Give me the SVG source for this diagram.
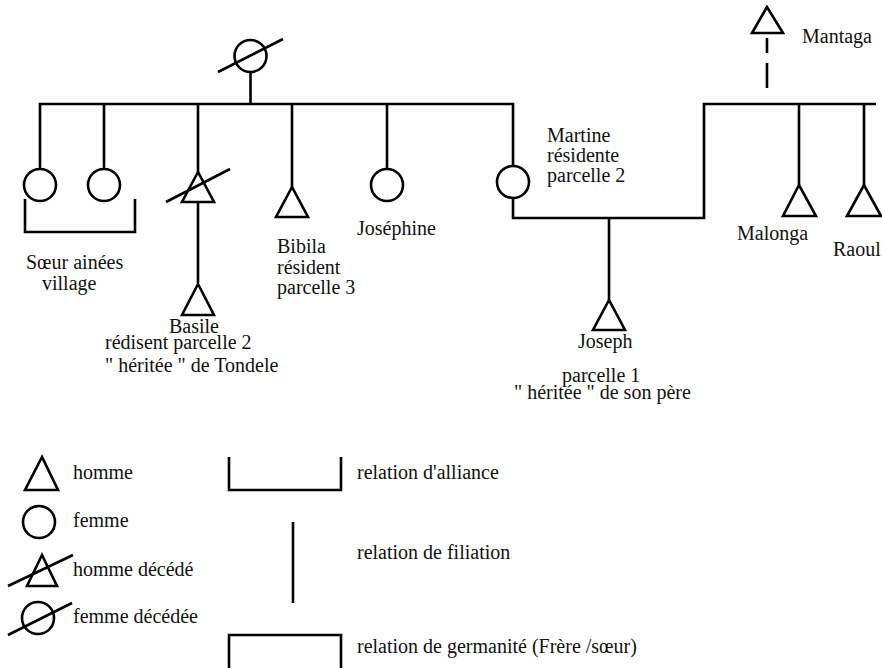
<svg xmlns="http://www.w3.org/2000/svg" width="882" height="668" viewBox="0 0 882 668">
<style>
.s{fill:none;stroke:#000;stroke-width:2.6}
.f{fill:#fff;stroke:#000;stroke-width:2.6}
text{font-family:"Liberation Serif","Times New Roman",serif;font-size:20px;fill:#111}
</style>
<rect width="882" height="668" fill="#fff"/>
<g id="connectors" class="s">
<line x1="250.5" y1="72" x2="250.5" y2="104"/>
<polyline points="40,185 40,104 513,104 513,166"/>
<line x1="104" y1="104" x2="104" y2="169"/>
<line x1="198" y1="104" x2="198" y2="172"/>
<line x1="198" y1="202" x2="198" y2="283"/>
<line x1="292" y1="104" x2="292" y2="187"/>
<line x1="387" y1="104" x2="387" y2="169"/>
<polyline points="513,198 513,218 704,218 704,104 876,104"/>
<line x1="609" y1="218" x2="609" y2="300"/>
<line x1="799" y1="104" x2="799" y2="185"/>
<line x1="864" y1="104" x2="864" y2="185"/>
<line x1="767" y1="38" x2="767" y2="53"/>
<line x1="767" y1="63" x2="767" y2="88"/>
<polyline points="25,199 25,232 135,232 135,199"/>
</g>
<g id="mere">
<circle class="f" cx="250.5" cy="56" r="16"/>
<line class="s" x1="218" y1="72" x2="283" y2="39"/>
</g>
<g id="soeur1"><circle class="f" cx="40" cy="185" r="16"/></g>
<g id="soeur2"><circle class="f" cx="104" cy="185" r="16"/></g>
<g id="soeurs-label"><text x="26" y="269">Sœur ainées</text><text x="42" y="290">village</text></g>
<g id="pere-basile">
<polygon class="f" points="198,172 182,202 214,202"/>
<line class="s" x1="166" y1="202" x2="230" y2="169"/>
</g>
<g id="basile">
<polygon class="f" points="198,284 182,315 214,315"/>
<text x="169" y="333">Basile</text>
<text x="105" y="349">rédisent parcelle 2</text>
<text x="105" y="372">" héritée " de Tondele</text>
</g>
<g id="bibila">
<polygon class="f" points="292,187 276,217 308,217"/>
<text x="277" y="253">Bibila</text>
<text x="277" y="273.5">résident</text>
<text x="277" y="294">parcelle 3</text>
</g>
<g id="josephine">
<circle class="f" cx="387" cy="185" r="16"/>
<text x="357" y="235">Joséphine</text>
</g>
<g id="martine">
<circle class="f" cx="513" cy="182" r="16"/>
<text x="547" y="142">Martine</text>
<text x="547" y="162">résidente</text>
<text x="547" y="182">parcelle 2</text>
</g>
<g id="joseph">
<polygon class="f" points="609,300 593,330 625,330"/>
<text x="578" y="348">Joseph</text>
<text x="562" y="382">parcelle 1</text>
<text x="514" y="399">" héritée " de son père</text>
</g>
<g id="mantaga">
<polygon class="f" points="767,7 752,33 783,33"/>
<text x="802" y="43">Mantaga</text>
</g>
<g id="malonga">
<polygon class="f" points="799,185 783,216 816,216"/>
<text x="737" y="240">Malonga</text>
</g>
<g id="raoul">
<polygon class="f" points="864,185 847,216 881,216"/>
<text x="833" y="256">Raoul</text>
</g>
<g id="legende">
<polygon class="f" points="42,457 25,490 58,490"/>
<text x="73" y="479">homme</text>
<circle class="f" cx="39" cy="522" r="16"/>
<text x="73" y="527">femme</text>
<polygon class="f" points="42,555 27,586 57,586"/>
<line class="s" x1="8" y1="586" x2="73" y2="555"/>
<text x="73" y="576">homme décédé</text>
<circle class="f" cx="38" cy="618" r="16"/>
<line class="s" x1="8" y1="635" x2="72" y2="603"/>
<text x="73" y="623">femme décédée</text>
<polyline class="s" points="229,457 229,490 341,490 341,457"/>
<text x="357" y="479">relation d'alliance</text>
<line class="s" x1="293" y1="522" x2="293" y2="603"/>
<text x="357" y="559">relation de filiation</text>
<polyline class="s" points="229,670 229,635 341,635 341,670"/>
<text x="357" y="653">relation de germanité (Frère /sœur)</text>
</g>
</svg>
